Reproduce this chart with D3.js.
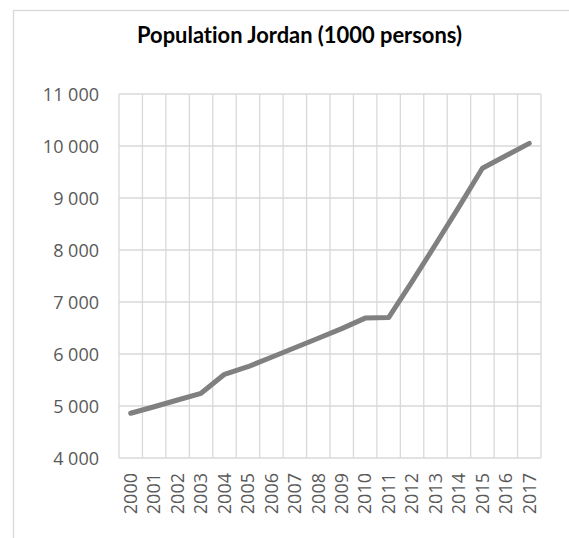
<!DOCTYPE html>
<html>
<head>
<meta charset="utf-8">
<script src="https://cdn.jsdelivr.net/npm/d3@7"></script>
<style>
  html, body { margin: 0; padding: 0; background: #fff; }
  svg { display: block; }
  text { font-family: "Open Sans", "Noto Sans", sans-serif; font-variant-ligatures: none; }
</style>
</head>
<body>
<svg id="chart" width="569" height="538"></svg>
<script>
// Population of Jordan, thousands of persons
const years = ["2000","2001","2002","2003","2004","2005","2006","2007","2008",
               "2009","2010","2011","2012","2013","2014","2015","2016","2017"];
const population = [4860, 4985, 5115, 5244, 5610, 5755, 5938, 6120, 6304,
                    6488, 6690, 6700, 7390, 8105, 8828, 9571, 9813, 10051];
const yTicks = [4000, 5000, 6000, 7000, 8000, 9000, 10000, 11000];
const titleText = "Population Jordan (1000 persons)";

const svg = d3.select("#chart");
const plot = { left: 119, right: 541, top: 94, bottom: 458 };
const gridColor = "#d9d9d9";
const textColor = "#595959";

// chart frame
svg.append("rect")
  .attr("x", 13.5).attr("y", 10.5)
  .attr("width", 620).attr("height", 560)
  .attr("fill", "#fff")
  .attr("stroke", gridColor).attr("stroke-width", 1.3);

const x = d3.scaleBand().domain(years).range([plot.left, plot.right]).padding(0);
const y = d3.scaleLinear().domain([4000, 11000]).range([plot.bottom, plot.top]);

const fmt = d3.formatLocale({ decimal: ",", thousands: "\u00a0", grouping: [3], currency: ["", ""] }).format(",d");

// gridlines
const grid = svg.append("g").attr("stroke", gridColor).attr("stroke-width", 1.3);
grid.selectAll("line.h").data(yTicks).join("line")
  .attr("class", "h")
  .attr("x1", plot.left).attr("x2", plot.right)
  .attr("y1", d => y(d)).attr("y2", d => y(d));
const xEdges = years.map(d => x(d)).concat([x(years[years.length - 1]) + x.bandwidth()]);
grid.selectAll("line.v").data(xEdges).join("line")
  .attr("class", "v")
  .attr("x1", d => d).attr("x2", d => d)
  .attr("y1", plot.top).attr("y2", plot.bottom);

// y axis labels
const yAxis = d3.axisLeft(y).tickValues(yTicks).tickFormat(fmt).tickSize(0).tickPadding(20);
const gy = svg.append("g").attr("transform", `translate(${plot.left},0)`).call(yAxis);
gy.select(".domain").remove();
gy.selectAll("text")
  .attr("fill", textColor)
  .style("font-size", "18px")
  .attr("dy", "0.35em");

// x axis labels (rotated)
const xAxis = d3.axisBottom(x).tickSize(0).tickPadding(0);
const gx = svg.append("g").attr("transform", `translate(0,${plot.bottom})`).call(xAxis);
gx.select(".domain").remove();
gx.selectAll("text")
  .attr("fill", textColor)
  .style("font-size", "18px")
  .attr("text-anchor", "end")
  .attr("transform", "rotate(-90)")
  .attr("x", -15)
  .attr("y", 0)
  .attr("dy", "0.35em");

// population line
const line = d3.line()
  .x((d, i) => x(years[i]) + x.bandwidth() / 2)
  .y(d => y(d));
svg.append("path")
  .datum(population)
  .attr("d", line)
  .attr("fill", "none")
  .attr("stroke", "#808080")
  .attr("stroke-width", 5)
  .attr("stroke-linejoin", "round")
  .attr("stroke-linecap", "round");

// title
const title = svg.append("text")
  .attr("x", 299.5).attr("y", 43)
  .attr("text-anchor", "middle")
  .attr("fill", "#000")
  .style("font-family", "Lato, 'Open Sans', sans-serif")
  .style("font-size", "20px")
  .style("font-weight", "bold")
  .text(titleText);
const tw = title.node().getComputedTextLength();
title.style("font-size", (20 * 325 / tw).toFixed(2) + "px");
</script>
</body>
</html>
